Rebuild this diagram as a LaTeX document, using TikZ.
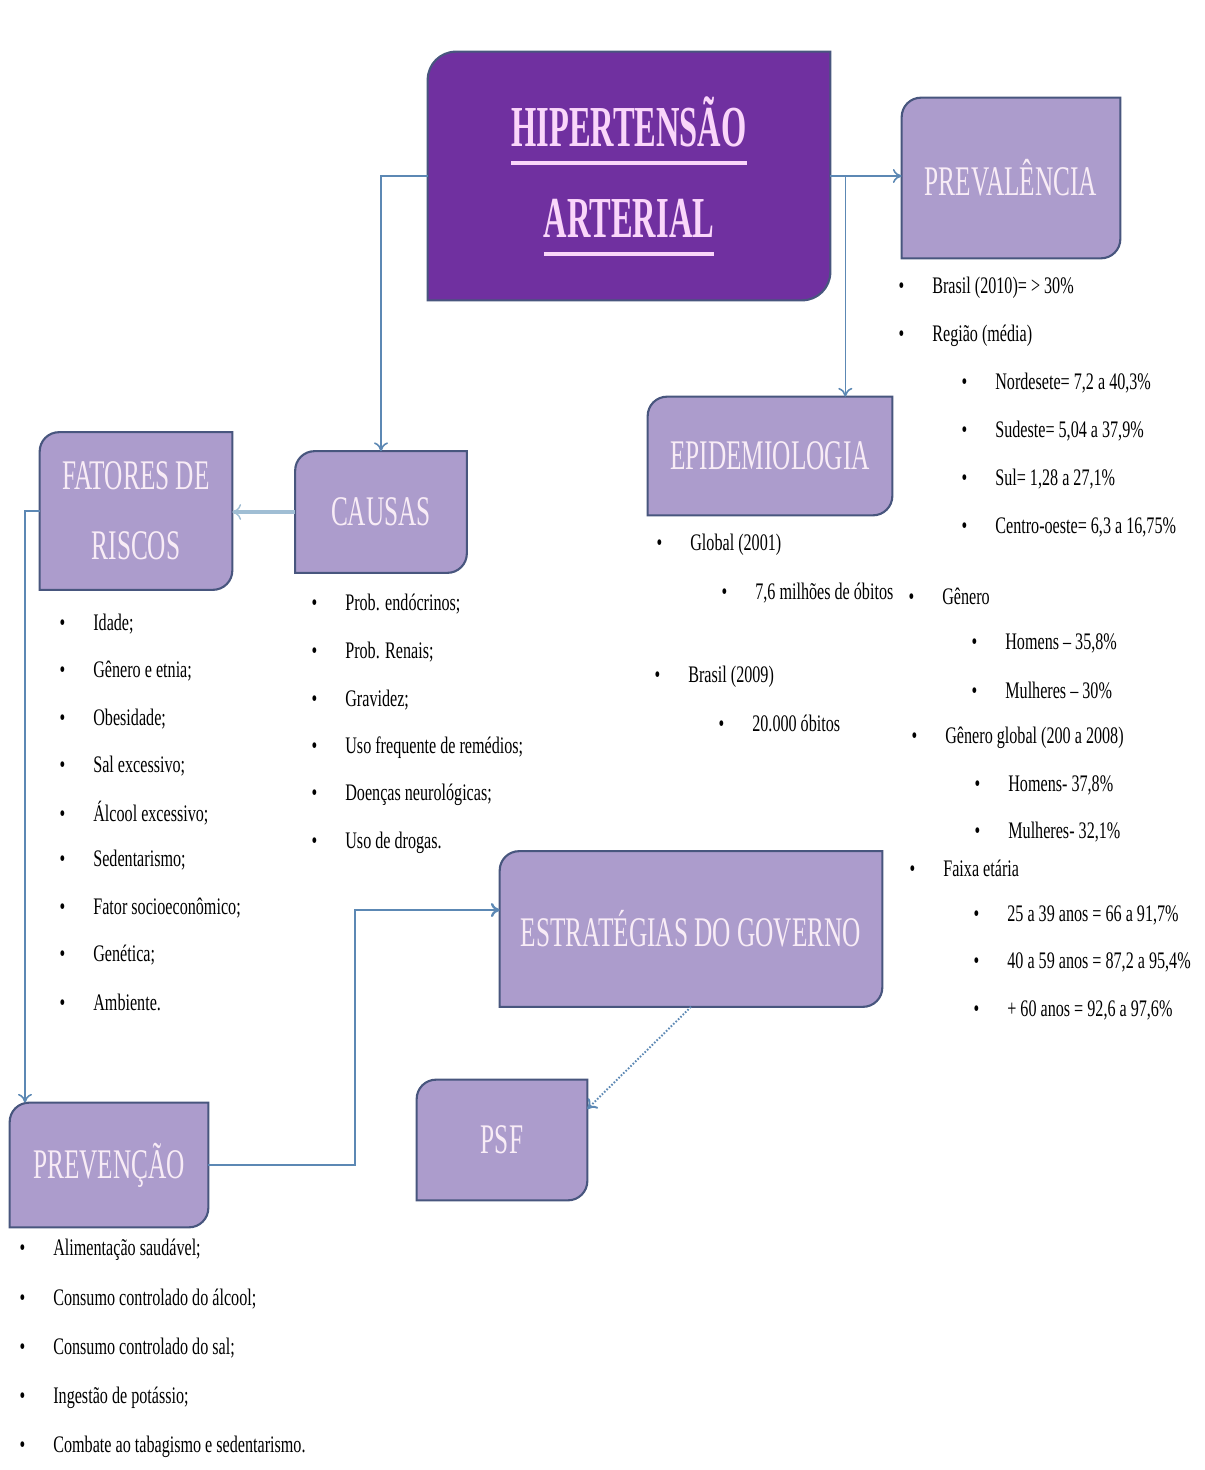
\documentclass[tikz,border=0pt]{standalone}
\usepackage{fontspec}
\setmainfont{Liberation Serif}[FakeStretch=0.68]
\newfontfamily\fonteTitulo{Liberation Serif}[FakeStretch=0.56]
\newfontfamily\fonteCaixa{Liberation Serif}[FakeStretch=0.6]
\usetikzlibrary{calc,backgrounds,arrows.meta}
\definecolor{roxo}{RGB}{112,48,160}
\definecolor{lilas}{RGB}{172,156,204}
\definecolor{borda}{RGB}{72,86,126}
\definecolor{textocaixa}{RGB}{248,236,246}
\definecolor{titulo}{RGB}{250,214,250}
\definecolor{azul}{RGB}{92,136,180}
\definecolor{azulclaro}{RGB}{160,190,212}
% caixa com cantos arredondados em diagonal
\newcommand\caixa[3]{\draw[line width=1.2pt, draw=borda, fill=#1] ([yshift=-#3]#2.north west) arc[start angle=180, end angle=90, radius=#3] -- (#2.north east) -- ([yshift=#3]#2.south east) arc[start angle=0, end angle=-90, radius=#3] -- (#2.south west) -- cycle;}
\newcommand\sublinha[1]{\vtop{\hbox{#1}\kern8pt\hrule height 2.2pt}}

\begin{document}
\begin{tikzpicture}[x=0.02cm, y=-0.02cm,
	>={To[length=5pt,width=8pt]},
	seta/.style={line width=0.9pt, color=azul, ->},
	rotulo/.style={font=\fonteCaixa\fontsize{24}{40}\selectfont, text=textocaixa, align=center, inner sep=0pt},
	topico/.style={anchor=west, inner sep=0pt, font=\fontsize{13.5}{16}\selectfont, execute at begin node={\llap{\textbullet\hspace{16pt}}}}]
	%%%%% START %%%%%
	\useasboundingbox (0,0) rectangle (1204,1470);
	
	\node[font=\fonteTitulo\bfseries\fontsize{33}{52}\selectfont, text=titulo, align=center, minimum width=8.04cm, minimum height=4.96cm] (hip) at (629,176) {\sublinha{HIPERTENSÃO}\\\sublinha{ARTERIAL}};
	\node[rotulo, minimum width=4.36cm, minimum height=3.2cm] (prev) at (1011,178) {PREVALÊNCIA};
	\node[rotulo, minimum width=4.88cm, minimum height=2.36cm] (epi) at (770,456) {EPIDEMIOLOGIA};
	\node[rotulo, minimum width=3.84cm, minimum height=3.14cm] (fat) at (136,511) {FATORES DE\\RISCOS};
	\node[rotulo, minimum width=3.42cm, minimum height=2.42cm] (cau) at (381,512) {CAUSAS};
	\node[rotulo, minimum width=7.64cm, minimum height=3.1cm] (est) at (691,929) {ESTRATÉGIAS DO GOVERNO};
	\node[rotulo, minimum width=3.4cm, minimum height=2.4cm] (psf) at (502,1140) {PSF};
	\node[rotulo, minimum width=3.96cm, minimum height=2.48cm] (pre) at (109,1165) {PREVENÇÃO};
	
	\begin{scope}[on background layer]
		\fill[white] (0,0) rectangle (1204,1470);
		\caixa{roxo}{hip}{16pt}
		\foreach \n in {prev,epi,fat,cau,est,psf,pre} {
			\caixa{lilas}{\n}{11pt}
		}
	\end{scope}
	
	% ligacoes
	\draw[seta] (hip.west) -| (cau.north);
	\draw[seta] (hip.east) -- (hip.east -| prev.west);
	\coordinate (ramo) at ($(hip.east)+(15,0)$);
	\draw[seta] (ramo) -- (ramo |- epi.north);
	\draw[seta, line width=2.2pt, color=azulclaro, -{To[length=5pt,width=9pt,line width=0.8pt]}] (cau.west) -- (cau.west -| fat.east);
	\coordinate (desvio) at (25,511);
	\draw[seta] (fat.west) -- (desvio) -- (desvio |- pre.north);
	\coordinate (quebra) at (355,910);
	\draw[seta, line width=1.3pt] (pre.east) -| (quebra) -- (quebra -| est.west);
	\draw[seta, densely dotted, line width=1.1pt] (est.south) -- (psf.20);
	
	% prevalencia
	\node[topico] (pv-1) at (932,288) {Brasil (2010)= > 30\%};
	\node[topico] (pv-2) at (932,336) {Região (média)};
	\foreach \t [count=\i] in {{Nordesete= 7,2 a 40,3\%},{Sudeste= 5,04 a 37,9\%},{Sul= 1,28 a 27,1\%},{Centro-oeste= 6,3 a 16,75\%}}
		\node[topico] (rg-\i) at (995,{383+48*(\i-1)}) {\t};
	\node[topico] (gn) at (942,596) {Gênero};
	\node[topico] (gn-1) at (1005,643) {Homens – 35,8\%};
	\node[topico] (gn-2) at (1005,690) {Mulheres – 30\%};
	\node[topico] (gg) at (945,738) {Gênero global (200 a 2008)};
	\node[topico] (gg-1) at (1008,785) {Homens- 37,8\%};
	\node[topico] (gg-2) at (1008,832) {Mulheres- 32,1\%};
	\node[topico] (fx) at (943,868) {Faixa etária};
	\foreach \t [count=\i] in {{25 a 39 anos = 66 a 91,7\%},{40 a 59 anos = 87,2 a 95,4\%},{+ 60 anos = 92,6 a 97,6\%}}
		\node[topico] (fx-\i) at (1007,{915+47.5*(\i-1)}) {\t};
	
	% epidemiologia
	\node[topico] (ep-1) at (690,545) {Global (2001)};
	\node[topico] (ep-2) at (755,593) {7,6 milhões de óbitos};
	\node[topico] (ep-3) at (688,677) {Brasil (2009)};
	\node[topico] (ep-4) at (752,723) {20.000 óbitos};
	
	% fatores de riscos
	\foreach \t [count=\i] in {Idade;,Gênero e etnia;,Obesidade;,Sal excessivo;,Álcool excessivo;,Sedentarismo;,Fator socioeconômico;,Genética;,Ambiente.}
		\node[topico] (fr-\i) at (93,{624+47.3*(\i-1)}) {\t};
	
	% causas
	\foreach \t [count=\i] in {Prob. endócrinos;,Prob. Renais;,Gravidez;,Uso frequente de remédios;,Doenças neurológicas;,Uso de drogas.}
		\node[topico] (ca-\i) at (345,{604+47.8*(\i-1)}) {\t};
	
	% prevencao
	\foreach \t [count=\i] in {Alimentação saudável;,Consumo controlado do álcool;,Consumo controlado do sal;,Ingestão de potássio;,Combate ao tabagismo e sedentarismo.}
		\node[topico] (pr-\i) at (53,{1250+49.2*(\i-1)}) {\t};
	%%%%% END %%%%%
\end{tikzpicture}
\end{document}
